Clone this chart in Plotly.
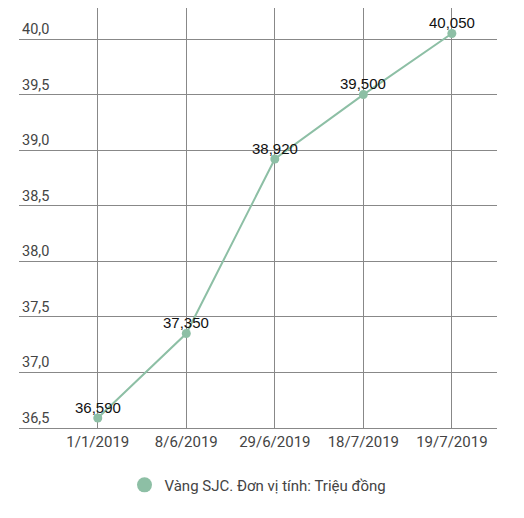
import plotly.graph_objects as go

dates = ["1/1/2019", "8/6/2019", "29/6/2019", "18/7/2019", "19/7/2019"]
prices = [36.59, 37.35, 38.92, 39.50, 40.05]
price_labels = ["36,590", "37,350", "38,920", "39,500", "40,050"]
y_ticks = [36.5, 37.0, 37.5, 38.0, 38.5, 39.0, 39.5, 40.0]
y_tick_labels = ["36,5", "37,0", "37,5", "38,0", "38,5", "39,0", "39,5", "40,0"]
series_name = "Vàng SJC. Đơn vị tính: Triệu đồng"

green = "#8dbfa5"

fig = go.Figure()
fig.add_trace(go.Scatter(
    x=dates, y=prices, name=series_name, showlegend=False,
    mode="lines+markers",
    line=dict(color=green, width=2),
    marker=dict(color=green, size=9),
))
# legend entry shows only the dot, like the original
fig.add_trace(go.Scatter(
    x=[None], y=[None], name=series_name, mode="markers",
    marker=dict(color=green, size=15),
))

# value labels sit just above each point
for d, p, lbl in zip(dates, prices, price_labels):
    fig.add_annotation(x=d, y=p, text=lbl, showarrow=False,
                       yanchor="middle", yshift=11,
                       font=dict(family="Liberation Sans, Arial", size=15, color="#111"))

# the page body adds 8px, so the figure is 8px smaller than the window
fig.update_layout(
    width=516, height=510,
    margin=dict(l=11, r=27, t=0, b=90),
    paper_bgcolor="white", plot_bgcolor="white",
    font=dict(family="Roboto", size=14, color="#444"),
    showlegend=True,
    legend=dict(orientation="h", x=0.5, xanchor="center", y=-0.136, yanchor="middle",
                font=dict(family="Roboto", size=15, color="#444")),
)
fig.update_xaxes(
    type="category", range=[-0.89, 4.51],
    showgrid=True, gridcolor="#888", gridwidth=1,
    showline=True, linecolor="#888", linewidth=1,
    ticks="", tickfont=dict(size=15, color="#444"),
)
fig.update_yaxes(
    range=[36.5, 40.279], tickvals=y_ticks, ticktext=y_tick_labels,
    ticklabelposition="inside top",
    showgrid=True, gridcolor="#888", gridwidth=1,
    zeroline=False, showline=False,
    ticks="", tickfont=dict(size=14.5, color="#444"),
)

fig.write_html("out.html")
